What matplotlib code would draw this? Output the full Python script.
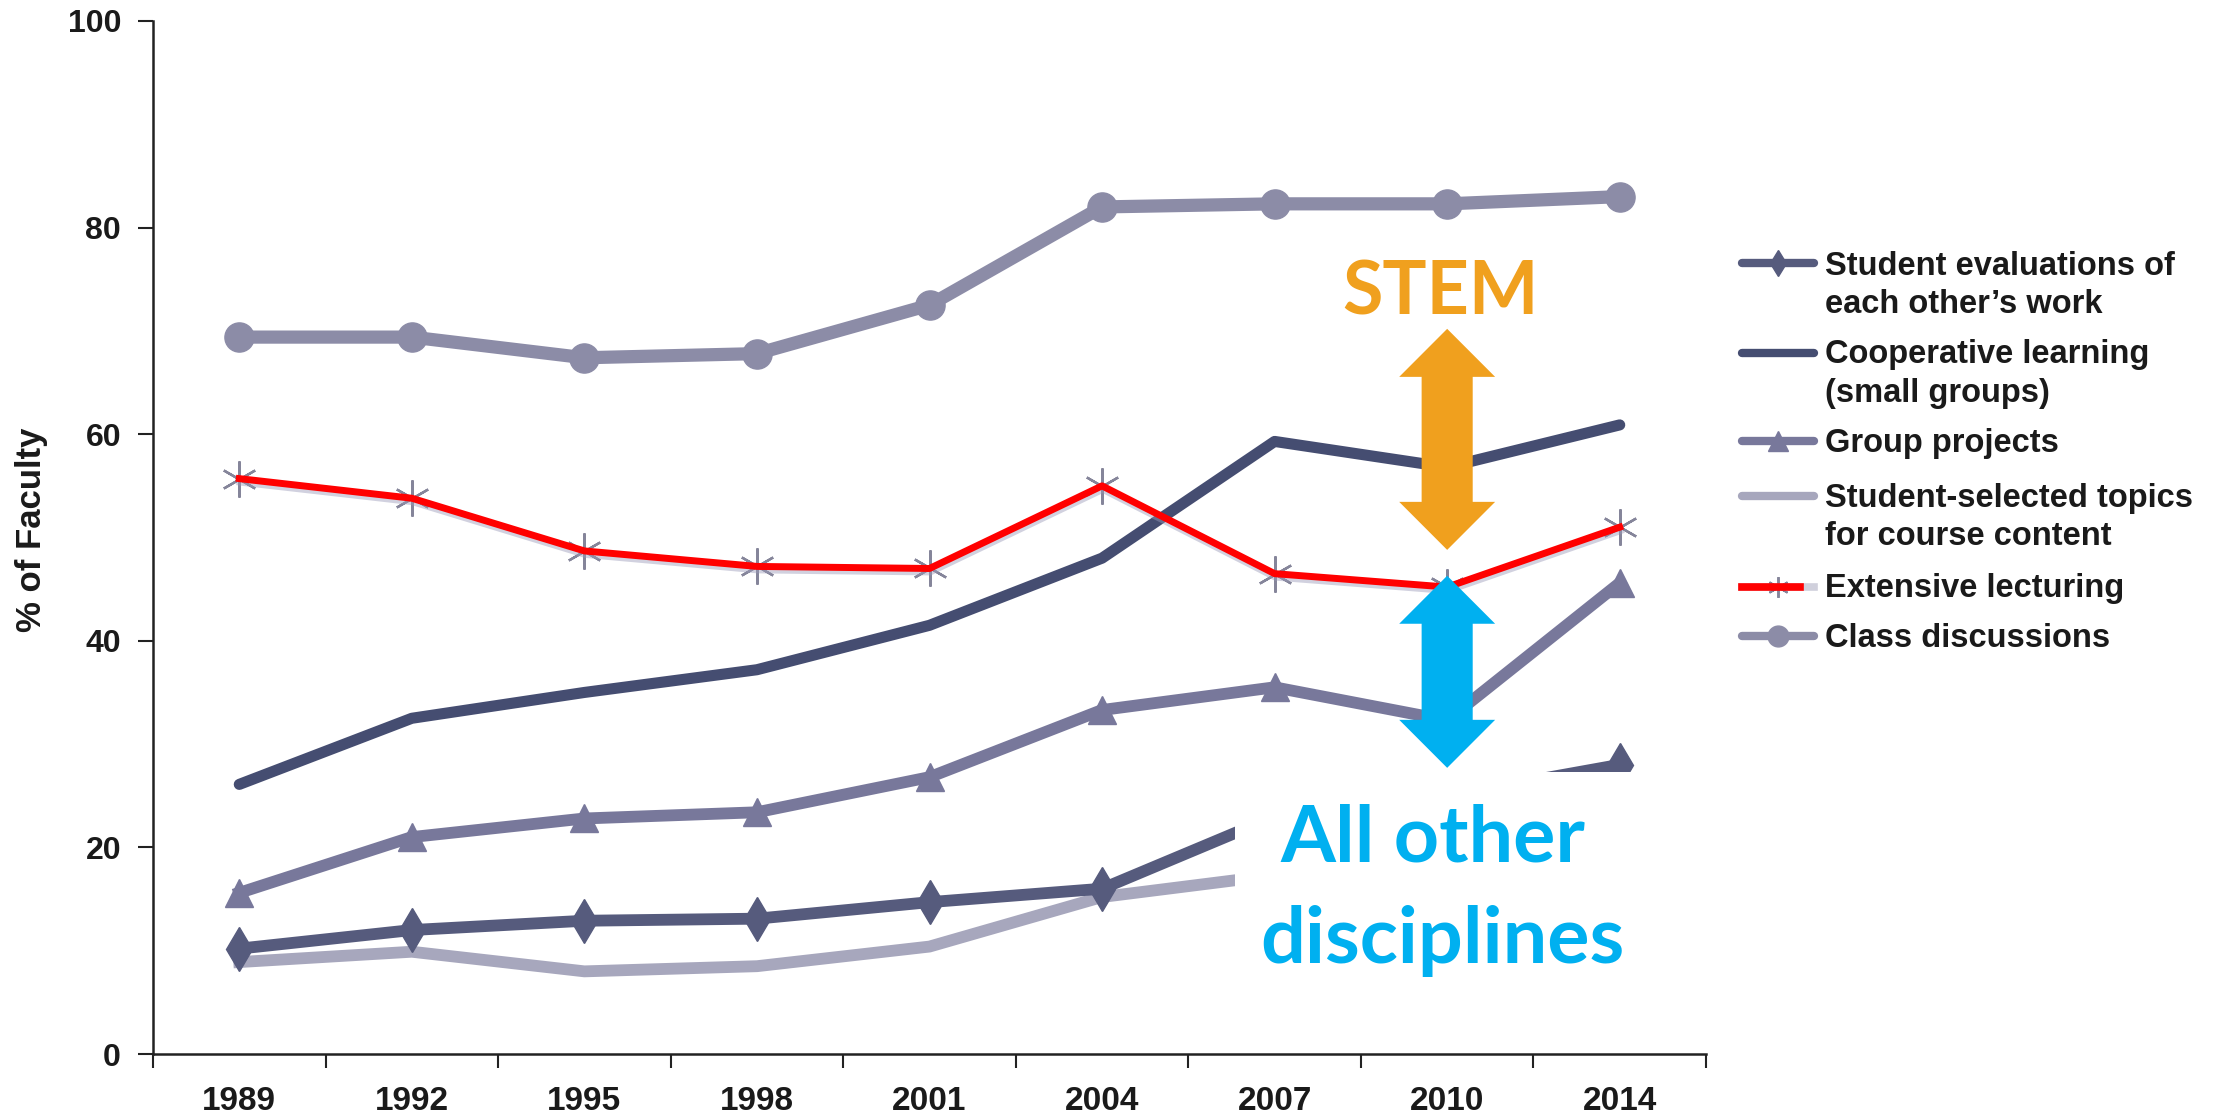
import numpy as np
import matplotlib
matplotlib.use("Agg")
import matplotlib.pyplot as plt
from matplotlib.lines import Line2D
from matplotlib.patches import Rectangle, Polygon
import matplotlib.patheffects as pe

years = ["1989", "1992", "1995", "1998", "2001", "2004", "2007", "2010", "2014"]

student_evals = [10.2, 12.0, 12.9, 13.1, 14.7, 16.0, 23.0, 25.0, 28.0]
cooperative = [26.1, 32.5, 35.0, 37.2, 41.5, 48.0, 59.3, 56.8, 60.9]
group_projects = [15.6, 21.0, 22.8, 23.4, 26.8, 33.3, 35.5, 32.3, 45.6]
student_topics = [8.9, 9.9, 8.0, 8.5, 10.4, 15.2, 17.3, 18.5, 20.0]
lecturing = [55.7, 53.8, 48.7, 47.2, 47.0, 55.0, 46.5, 45.2, 51.0]
discussions = [69.4, 69.4, 67.4, 67.8, 72.5, 82.0, 82.3, 82.3, 83.0]

legend_labels = [
    ["Student evaluations of", "each other\u2019s work"],
    ["Cooperative learning", "(small groups)"],
    ["Group projects"],
    ["Student-selected topics", "for course content"],
    ["Extensive lecturing"],
    ["Class discussions"],
]

C_EVAL = "#565b7d"
C_COOP = "#454d71"
C_GROUP = "#78789b"
C_TOPIC = "#a7a7bd"
C_DISC = "#8c8ca7"
C_STAR = "#85859a"
C_ORANGE = "#f0a01e"
C_BLUE = "#00b0f0"

plt.rcParams["font.family"] = ["Liberation Sans", "DejaVu Sans"]

W, H = 2239, 1116
fig = plt.figure(figsize=(W / 100, H / 100), dpi=100)
ax = fig.add_axes([153 / W, 1 - 1054 / H, 1553 / W, 1033 / H])

x = np.arange(len(years))

ax.plot(x, student_topics, color=C_TOPIC, lw=8.5, solid_joinstyle="round", zorder=2)
ax.plot(x, student_evals, color=C_EVAL, lw=8.5, marker="d", ms=22, solid_joinstyle="round", zorder=2.1)
ax.plot(x, group_projects, color=C_GROUP, lw=8.5, marker="^", ms=20, solid_joinstyle="round", zorder=2.1)
ax.plot(x, cooperative, color=C_COOP, lw=8, solid_joinstyle="round", solid_capstyle="round", zorder=2.2)
ax.plot(x, discussions, color=C_DISC, lw=9.5, marker="o", ms=21, solid_joinstyle="round", zorder=2.2)
ax.plot(x, lecturing, color="none", marker=(6, 2, 0), ms=26, mec=C_STAR, mew=1.7, ls="none", zorder=2.3)
ax.plot(x, lecturing, color="#ff0000", lw=5, solid_joinstyle="round", zorder=2.4,
        path_effects=[pe.SimpleLineShadow(offset=(0.5, -2.5), shadow_color="#9a9ab8", alpha=0.45),
                      pe.Normal()])

ax.set_xlim(-0.5, 8.5)
ax.set_ylim(0, 100)
ax.set_xticks(np.arange(-0.5, 9, 1))
ax.set_xticklabels([])
ax.set_xticks(x, minor=True)
ax.set_xticklabels(years, minor=True)
ax.tick_params(axis="x", which="major", direction="out", length=10, width=1.5, color="#222222")
ax.tick_params(axis="x", which="minor", length=0, pad=23, labelsize=24, labelcolor="#1a1a1a")
ax.set_yticks([0, 20, 40, 60, 80, 100])
ax.tick_params(axis="y", direction="out", length=11, width=1.5, pad=12, labelsize=23,
               labelcolor="#1a1a1a", color="#222222")
for lab in ax.get_xticklabels(minor=True) + ax.get_yticklabels():
    lab.set_fontweight("bold")

for s in ["top", "right"]:
    ax.spines[s].set_visible(False)
for s in ["left", "bottom"]:
    ax.spines[s].set_linewidth(1.8)
    ax.spines[s].set_color("#222222")

fig.text(32 / W, 1 - 530 / H, "% of Faculty", rotation=90, ha="center", va="center",
         fontsize=25, fontweight="bold", color="#1a1a1a")

# white box behind the lower annotation
ax.add_patch(Rectangle((5.77, 2.0), 3.0, 25.3, facecolor="white", edgecolor="none",
                       zorder=3, clip_on=False))


def double_arrow(xc, y0, y1, color):
    sw, hw, hl = 0.148, 0.278, 4.65
    pts = [(xc, y1), (xc - hw, y1 - hl), (xc - sw, y1 - hl), (xc - sw, y0 + hl),
           (xc - hw, y0 + hl), (xc, y0), (xc + hw, y0 + hl), (xc + sw, y0 + hl),
           (xc + sw, y1 - hl), (xc + hw, y1 - hl)]
    ax.add_patch(Polygon(pts, closed=True, facecolor=color, edgecolor="none", zorder=4))


double_arrow(7, 48.8, 70.2, C_ORANGE)
double_arrow(7, 27.7, 46.3, C_BLUE)

ax.text(6.96, 71.6, "STEM", ha="center", va="baseline", color=C_ORANGE,
        fontsize=53, fontweight="bold", family="Lato", zorder=5)
ax.text(6.92, 18.6, "All other", ha="center", va="baseline", color=C_BLUE,
        fontsize=57, fontweight="bold", family="Lato", zorder=5)
ax.text(6.97, 8.8, "disciplines", ha="center", va="baseline", color=C_BLUE,
        fontsize=57, fontweight="bold", family="Lato", zorder=5)

# legend drawn by hand so the handle sits on the first text line
handle_y = [263, 353, 441, 496, 587, 636]
baselines = [[275, 313], [363, 402], [452], [507, 545], [597], [647]]
styles = [
    dict(color=C_EVAL, marker="d", ms=13),
    dict(color=C_COOP, marker=None),
    dict(color=C_GROUP, marker="^", ms=15),
    dict(color=C_TOPIC, marker=None),
    None,
    dict(color=C_DISC, marker="o", ms=15),
]
x0, x1, xm = 1742 / W, 1814 / W, 1778 / W
for hy, bl, st, lines in zip(handle_y, baselines, styles, legend_labels):
    yy = 1 - hy / H
    if st is None:
        fig.add_artist(Line2D([x0, x1], [yy, yy], color="#d0d0dc", lw=5.5, transform=fig.transFigure))
        fig.add_artist(Line2D([xm], [yy], marker=(6, 2, 0), ms=15, mec=C_STAR, mew=1.4,
                              ls="none", transform=fig.transFigure))
        fig.add_artist(Line2D([x0, 1800 / W], [yy, yy], color="#ff0000", lw=5.5,
                              transform=fig.transFigure))
    else:
        fig.add_artist(Line2D([x0, x1], [yy, yy], color=st["color"], lw=6,
                              solid_capstyle="round", transform=fig.transFigure))
        if st["marker"]:
            fig.add_artist(Line2D([xm], [yy], marker=st["marker"], ms=st["ms"], color=st["color"],
                                  ls="none", transform=fig.transFigure))
    for b, t in zip(bl, lines):
        fig.text(1825 / W, 1 - b / H, t, ha="left", va="baseline", fontsize=23.5,
                 fontweight="bold", color="#1a1a1a")

fig.savefig("out.png", dpi=100, facecolor="white")
